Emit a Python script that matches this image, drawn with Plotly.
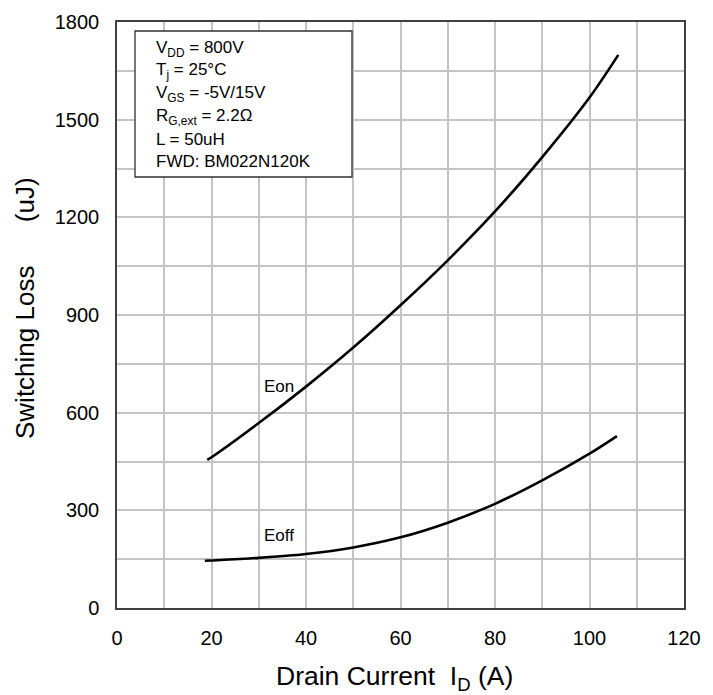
import plotly.graph_objects as go

# Switching loss vs. drain current
id_on = [19.1, 20, 30, 40, 50, 60, 70, 80, 90, 100, 106.1]
e_on = [455, 463, 568, 680, 800, 930, 1068, 1218, 1385, 1568, 1699]

id_off = [18.6, 20, 30, 40, 50, 60, 70, 80, 90, 100, 105.8]
e_off = [145, 146, 154, 166, 186, 217, 262, 320, 392, 474, 528]

conditions = [
    "V<sub>DD</sub> = 800V",
    "T<sub>j</sub> = 25°C",
    "V<sub>GS</sub> = -5V/15V",
    "R<sub>G,ext</sub> = 2.2Ω",
    "L = 50uH",
    "FWD: BM022N120K",
]

FONT = "Liberation Sans, Arial, sans-serif"
W, H = 713, 695
L, R, T, B = 117, 29, 22, 87
PW, PH = W - L - R, H - T - B


def px_x(p):
    return (p - L) / PW


def px_y(p):
    return (H - B - p) / PH


fig = go.Figure()
for xs, ys in ((id_on, e_on), (id_off, e_off)):
    fig.add_trace(go.Scatter(
        x=xs, y=ys, mode="lines",
        line=dict(color="black", width=2.6, shape="spline", smoothing=0.9),
        showlegend=False, hoverinfo="skip",
    ))

annotations = [
    dict(x=30.7, y=679, xref="x", yref="y", text="Eon", showarrow=False,
         xanchor="left", yanchor="middle", font=dict(size=17, color="black")),
    dict(x=30.7, y=222, xref="x", yref="y", text="Eoff", showarrow=False,
         xanchor="left", yanchor="middle", font=dict(size=17, color="black")),
    dict(x=px_x(394), y=px_y(678), xref="paper", yref="paper",
         text="Drain Current &nbsp;I<sub>D</sub> (A)", showarrow=False,
         xanchor="center", yanchor="middle", font=dict(size=26.5, color="black")),
    dict(x=px_x(25), y=px_y(308), xref="paper", yref="paper",
         text="Switching Loss &nbsp;&nbsp;&nbsp;&nbsp;&nbsp;(uJ)", showarrow=False,
         textangle=-90, xanchor="center", yanchor="middle",
         font=dict(size=26, color="black")),
]

line_y = [49, 71.5, 94, 116.5, 139, 161.5]
for txt, yy in zip(conditions, line_y):
    annotations.append(dict(
        x=px_x(154), y=px_y(yy), xref="paper", yref="paper", text=txt,
        showarrow=False, xanchor="left", yanchor="middle",
        font=dict(size=17, color="black"),
    ))

fig.update_layout(
    width=W, height=H,
    margin=dict(l=L, r=R, t=T, b=B),
    paper_bgcolor="white", plot_bgcolor="white",
    font=dict(family=FONT, color="black"),
    annotations=annotations,
    shapes=[dict(type="rect", xref="paper", yref="paper",
                 x0=px_x(135), x1=px_x(352), y0=px_y(177), y1=px_y(31),
                 line=dict(color="#303030", width=1.3), fillcolor="white",
                 layer="above")],
)

fig.update_xaxes(
    range=[0, 120], dtick=20, tick0=0,
    showgrid=True, gridcolor="#c4c4c4", gridwidth=1.5,
    minor=dict(dtick=10, showgrid=True, gridcolor="#c4c4c4", gridwidth=1.5),
    showline=True, linecolor="#404040", linewidth=1.5, mirror=True,
    ticks="", ticklabelstandoff=11, tickfont=dict(size=20, color="black"),
    zeroline=False, fixedrange=True,
)
fig.update_yaxes(
    range=[0, 1800], dtick=300, tick0=0,
    showgrid=True, gridcolor="#c4c4c4", gridwidth=1.5,
    minor=dict(dtick=150, showgrid=True, gridcolor="#c4c4c4", gridwidth=1.5),
    showline=True, linecolor="#404040", linewidth=1.5, mirror=True,
    ticks="", ticklabelstandoff=12, tickfont=dict(size=20, color="black"),
    zeroline=False, fixedrange=True,
)

fig.write_html("out.html", config=dict(displayModeBar=False))
